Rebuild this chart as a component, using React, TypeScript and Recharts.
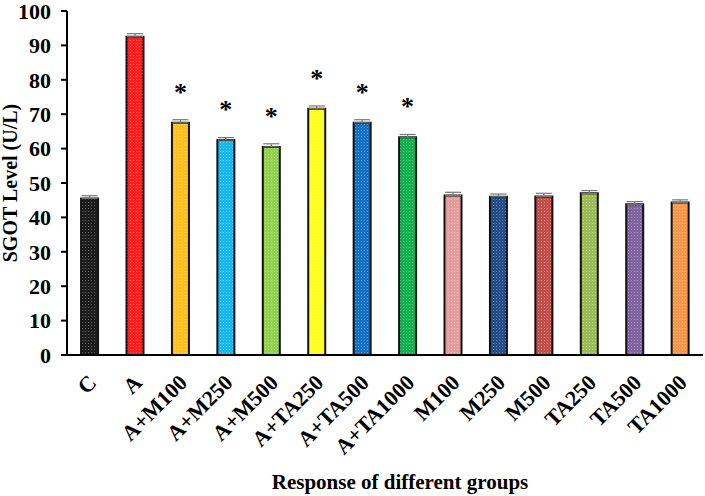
import { Bar, BarChart, Cell, ErrorBar, LabelList, XAxis, YAxis, Label } from 'recharts';

const groups = ['C', 'A', 'A+M100', 'A+M250', 'A+M500', 'A+TA250', 'A+TA500', 'A+TA1000', 'M100', 'M250', 'M500', 'TA250', 'TA500', 'TA1000'];
const sgot = [45.5, 92.5, 67.5, 62.5, 60.5, 71.6, 67.5, 63.3, 46.4, 46.0, 46.1, 47.0, 43.8, 44.3];
const sem = [0.8, 0.9, 0.9, 0.7, 0.9, 0.8, 0.9, 0.8, 0.9, 0.8, 0.9, 0.8, 0.8, 0.8];
const significant = [false, false, true, true, true, true, true, true, false, false, false, false, false, false];
const colors = ['#1c1c1c', '#ff1e1e', '#ffc01e', '#1ab6ee', '#92d050', '#ffff1e', '#1470c0', '#14b050', '#e49c9c', '#224f8a', '#c24f4c', '#9bbb59', '#8064a2', '#f79646'];
const yTicks = [0, 10, 20, 30, 40, 50, 60, 70, 80, 90, 100];

const data = groups.map((g, i) => ({ group: g, value: sgot[i], err: [0, sem[i]], sig: significant[i] }));

const font = '"Liberation Serif", "Times New Roman", serif';

function GroupTick({ x, y, payload }: any) {
  return (
    <text x={x + 8} y={y + 21} transform={`rotate(-45, ${x + 8}, ${y + 21})`} textAnchor="end"
      fontFamily={font} fontWeight="bold" fontSize={22} fill="#000">
      {payload.value}
    </text>
  );
}

function Star(props: any) {
  const { x, y, width, index } = props;
  if (!data[index]?.sig) return null;
  return (
    <text x={x + width / 2} y={y - 22} textAnchor="middle" fontFamily={font} fontWeight="bold" fontSize={26} fill="#000">*</text>
  );
}

export default function App() {
  return (
    <div style={{ position: 'absolute', left: 0, top: 0, background: '#fff' }}>
      <BarChart width={705} height={496} data={data} margin={{ top: 11, right: 2, left: 0, bottom: 0 }} barCategoryGap="31%">
        <defs>
          {colors.map((c, i) => (
            <pattern key={i} id={`dots${i}`} width="3" height="3" patternUnits="userSpaceOnUse">
              <rect width="3" height="3" fill={c} />
              <rect x="1" y="1" width="1" height="1" fill="#fff" fillOpacity={0.3} />
            </pattern>
          ))}
        </defs>
        <XAxis dataKey="group" height={141} tick={<GroupTick />} tickLine={false} interval={0}
          axisLine={{ stroke: '#000', strokeWidth: 2 }}>
          <Label position="insideBottom"
            content={({ viewBox }: any) => (
              <text x={viewBox.x + viewBox.width / 2 + 15} y={viewBox.y + viewBox.height - 7} textAnchor="middle"
                fontFamily={font} fontWeight="bold" fontSize={21} fill="#000">
                Response of different groups
              </text>
            )} />
        </XAxis>
        <YAxis width={67} domain={[0, 100]} ticks={yTicks} interval={0}
          axisLine={{ stroke: '#000', strokeWidth: 2 }} tickLine={{ stroke: '#000', strokeWidth: 2 }} tickSize={6} tickMargin={10}
          tick={{ fontFamily: font, fontWeight: 'bold', fontSize: 22, fill: '#000' }}>
          <Label value="SGOT Level (U/L)" angle={-90} position="insideLeft" offset={10}
            style={{ textAnchor: 'middle', fontFamily: font, fontWeight: 'bold', fontSize: 20, fill: '#000' }} />
        </YAxis>
        <Bar dataKey="value" stroke="#111" strokeWidth={2} isAnimationActive={false}>
          {data.map((_, i) => <Cell key={i} fill={`url(#dots${i})`} />)}
          <ErrorBar dataKey="err" width={8} stroke="#777" strokeWidth={1.2} direction="y" />
          <LabelList dataKey="value" content={<Star />} />
        </Bar>
      </BarChart>
    </div>
  );
}
